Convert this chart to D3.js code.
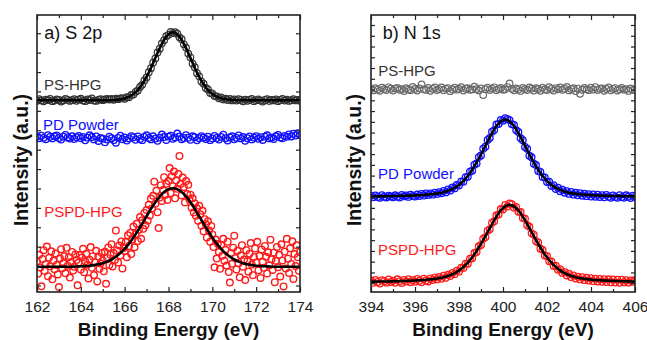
<!DOCTYPE html>
<html>
<head>
<meta charset="utf-8">
<script src="https://cdn.jsdelivr.net/npm/d3@7"></script>
<style>
  body { margin: 0; background: #fff; }
  svg text { font-family: "Liberation Sans", Arial, sans-serif; }
</style>
</head>
<body>
<svg id="chart" width="647" height="340"></svg>
<script>
// ---- a) S 2p : data (0.1 eV steps from 162 eV, red raw in 0.05 eV steps) ----
const sTicks = [162, 164, 166, 168, 170, 172, 174];
const sPsHpg = [
  95.2, 96.0, 95.4, 94.9, 95.8, 95.5, 96.1, 95.0, 95.3, 95.9, 95.6, 94.8, 95.4, 96.2, 95.7, 95.1, 95.5, 96.0, 95.2, 95.8,
  96.3, 95.4, 95.0, 95.9, 95.6, 96.4, 95.3, 95.1, 95.7, 96.0, 95.5, 95.9, 96.2, 95.8, 96.1, 95.7, 96.3, 96.0, 96.4, 96.6,
  96.2, 97.1, 97.0, 98.2, 98.4, 99.8, 100.5, 102.3, 103.4, 105.7, 107.2, 109.9, 112.0, 114.9, 117.0, 120.1, 122.0, 124.8, 126.4, 128.5,
  129.2, 130.7, 130.1, 130.6, 129.8, 127.9, 126.9, 124.3, 122.6, 119.5, 117.6, 114.3, 112.5, 109.4, 107.8, 105.1, 104.0, 101.8, 101.0, 99.2,
  98.9, 97.6, 97.5, 96.5, 96.9, 95.9, 96.3, 95.6, 96.1, 95.4, 95.9, 95.3, 96.0, 95.6, 94.9, 95.8, 95.2, 95.7, 96.1, 95.0,
  95.5, 95.9, 95.3, 94.8, 95.6, 96.0, 95.1, 95.7, 95.4, 95.9, 95.0, 95.6, 96.2, 95.3, 95.8, 95.1, 95.5, 96.0, 95.4, 95.7,
  95.2
];
const sPsHpgFit = [ // 0.2 eV steps
  95.5, 95.5, 95.5, 95.5, 95.5, 95.5, 95.5, 95.5, 95.5, 95.5, 95.5, 95.5, 95.5, 95.5, 95.5, 95.5,
  95.5, 95.6, 95.7, 96.0, 96.5, 97.3, 98.7, 100.7, 103.7, 107.5, 112.1, 117.3, 122.3, 126.6, 129.5,
  130.5, 129.5, 126.6, 122.3, 117.3, 112.1, 107.5, 103.7, 100.7, 98.7, 97.3, 96.5, 96.0, 95.7, 95.6,
  95.5, 95.5, 95.5, 95.5, 95.5, 95.5, 95.5, 95.5, 95.5, 95.5, 95.5, 95.5, 95.5, 95.5, 95.5
];
const sPdPowder = [
  76.8, 75.9, 77.2, 76.1, 75.4, 77.5, 76.6, 75.8, 76.9, 77.3, 76.0, 75.2, 76.7, 77.6, 76.3, 75.7, 76.9, 75.5, 76.4, 77.1,
  75.9, 76.6, 74.8, 76.2, 77.4, 76.5, 75.3, 76.8, 74.5, 76.0, 75.6, 73.8, 75.2, 76.7, 75.9, 74.9, 73.6, 76.1, 77.2, 75.4,
  76.3, 74.7, 75.8, 77.0, 76.4, 75.1, 76.8, 75.5, 74.9, 76.6, 77.4, 76.0, 75.3, 76.9, 75.7, 74.6, 76.2, 77.8, 76.5, 75.0,
  76.7, 77.2, 75.6, 76.3, 78.3, 76.8, 75.4, 76.0, 77.5, 76.2, 75.1, 76.9, 76.4, 74.8, 75.9, 77.0, 76.3, 75.5, 76.7, 74.9,
  75.8, 77.1, 76.0, 75.2, 76.6, 77.7, 75.9, 74.7, 76.3, 76.9, 75.4, 76.1, 77.3, 75.8, 76.5, 74.6, 75.9, 76.8, 75.3, 76.2,
  77.0, 75.6, 76.4, 75.0, 76.7, 77.4, 75.8, 76.2, 75.5, 76.9, 77.6, 76.3, 75.9, 77.1, 76.6, 77.9, 76.8, 78.2, 77.3, 78.5,
  77.4
];
const sPspdHpg = [ // 0.05 eV steps
  12.4, 6.1, 15.8, 9.3, -0.4, 13.7, 18.2, 7.5, 11.0, 20.1, 4.8, 14.3, 9.9, 17.6, 3.2, 12.8, 8.4, 16.5, 10.6, 5.7,
  -0.8, 13.9, 18.7, 8.9, 11.6, 15.2, 6.3, 19.4, 10.2, 14.6, 4.1, 12.1, 17.3, 7.7, 9.6, 16.0, 13.1, 0.1, 11.8, 15.7,
  8.2, 14.4, 18.9, 6.8, 12.5, 16.3, 10.7, 3.6, 13.3, 19.8, 9.1, 15.1, 5.4, 12.0, 17.9, 2.1, 14.9, 8.6, 11.3, 16.8,
  12.9, 7.3, 17.4, 0.9, 14.2, 19.6, 10.5, 15.9, 21.3, 9.8, 16.7, 13.2, 28.4, 18.1, 11.9, 20.6, 15.4, 22.7, 8.8, 19.3,
  17.8, 22.4, 14.6, 25.9, 20.3, 27.1, 16.2, 23.8, 30.4, 19.7, 26.5, 31.8, 22.9, 28.7, 35.3, 24.1, 33.6, 29.2, 37.4, 31.0,
  38.9, 33.4, 41.6, 36.1, 44.8, 39.7, 46.2, 53.5, 42.1, 48.9, 37.8, 29.6, 45.3, 51.7, 43.6, 49.2, 55.8, 46.7, 52.4, 44.1,
  53.9, 60.5, 47.6, 56.3, 51.2, 58.7, 44.9, 54.1, 49.8, 57.4, 66.8, 52.3, 46.4, 55.6, 50.7, 42.8, 53.8, 47.1, 51.9, 44.3,
  46.8, 40.2, 44.9, 37.6, 42.3, 35.9, 39.8, 33.4, 41.1, 36.7, 30.8, 38.5, 27.9, 34.2, 31.6, 24.8, 33.1, 28.4, 22.6, 30.7,
  26.3, 19.8, 9.4, 23.7, 13.9, 21.5, 17.2, 8.6, 20.9, 15.3, 24.1, 12.7, 18.4, 10.3, 22.6, 6.9, 1.5, 16.8, 11.2, 19.5,
  25.7, 14.1, 8.3, 17.9, 11.5, 4.2, 15.6, 20.8, 9.7, 13.4, 2.8, 18.2, 12.6, 7.1, 16.4, 21.9, 10.8, 5.3, 14.7, 19.1,
  11.9, 22.5, 7.8, 15.3, 3.9, 18.6, 12.2, 9.1, 20.4, 14.8, 6.2, 17.1, 10.4, 23.6, 13.5, 8.0, 16.9, 1.7, 12.7, 19.9,
  9.4, 15.8, 4.6, 21.2, 12.9, -0.5, 17.5, 8.7, 24.1, 13.8, 6.5, 19.2, 11.1, 22.8, 3.4, 16.2, 10.0, 20.7, 14.5, 7.6,
  17.3
];
const sPspdHpgFit = [ // 0.2 eV steps
  9.7, 9.7, 9.7, 9.7, 9.7, 9.7, 9.7, 9.7, 9.7,
  9.8, 9.9, 10.0, 10.2, 10.5, 10.9, 11.5, 12.3, 13.4, 14.8, 16.7, 18.9, 21.6, 24.7, 28.2, 31.9, 35.7, 39.5, 42.9, 45.9,
  48.2, 49.6, 50.1, 49.6, 48.2,
  45.9, 42.9, 39.5, 35.7, 31.9, 28.2, 24.7, 21.6, 18.9, 16.7, 14.8, 13.4, 12.3, 11.5, 10.9, 10.5, 10.2, 10.0, 9.9, 9.8,
  9.7, 9.7, 9.7, 9.7, 9.7, 9.7, 9.7
];

// ---- b) N 1s : data (0.1 eV steps from 394 eV) ----
const nTicks = [394, 396, 398, 400, 402, 404, 406];
const nPsHpg = [
  180.5, 179.2, 181.3, 180.0, 178.9, 181.8, 180.4, 179.5, 182.1, 180.8, 179.1, 180.9, 181.6, 179.8, 180.3, 178.6, 181.2, 180.1, 179.4, 182.4,
  180.6, 179.0, 181.1, 184.8, 180.2, 179.7, 181.5, 178.8, 180.7, 181.9, 179.6, 180.4, 182.0, 179.3, 180.9, 181.4, 178.5, 180.2, 181.7, 179.9,
  180.6, 182.2, 179.1, 180.8, 181.3, 179.7, 180.1, 182.6, 180.4, 179.2, 181.0, 174.9, 180.3, 181.8, 179.6, 180.9, 182.1, 179.4, 180.6, 181.5,
  179.8, 180.2, 182.3, 185.6, 180.7, 179.3, 181.1, 180.0, 178.7, 181.6, 180.4, 179.6, 182.0, 180.9, 179.1, 181.3, 180.5, 178.9, 181.8, 180.1,
  179.5, 182.2, 180.7, 179.0, 181.4, 180.3, 181.9, 179.7, 180.8, 182.5, 179.2, 180.6, 181.2, 178.6, 180.9, 176.1, 179.8, 181.5, 180.2, 179.4,
  181.7, 180.0, 182.3, 179.6, 180.8, 181.1, 178.8, 180.5, 181.9, 179.3, 180.7, 181.4, 179.1, 180.2, 181.6, 179.9, 180.4, 178.7, 181.0, 179.6,
  180.3
];
const nPdPowder = [
  81.2, 79.8, 81.5, 80.1, 79.4, 81.9, 80.3, 79.7, 81.4, 80.6, 79.9, 81.7, 80.4, 79.6, 82.0, 80.8, 81.6, 80.2, 82.3, 81.0,
  80.5, 82.4, 81.1, 82.9, 81.5, 83.4, 82.0, 83.5, 82.3, 84.2, 82.8, 84.6, 83.5, 85.7, 84.4, 87.1, 86.0, 88.9, 88.1, 91.2,
  90.7, 94.5, 94.3, 98.6, 99.0, 103.7, 104.6, 110.1, 111.3, 117.2, 118.8, 125.0, 126.9, 133.1, 134.9, 140.8, 142.3, 147.5, 148.0, 151.8,
  151.0, 153.3, 152.4, 151.6, 147.8, 147.2, 142.1, 140.5, 134.7, 132.9, 126.6, 124.9, 118.5, 117.0, 111.0, 109.8, 104.3, 103.5, 98.7, 98.4,
  94.0, 94.3, 90.4, 91.1, 87.6, 88.7, 85.5, 86.8, 84.1, 85.6, 83.0, 84.8, 82.3, 84.0, 81.7, 83.6, 81.3, 83.1, 80.9, 82.8,
  80.6, 82.5, 80.4, 82.2, 80.1, 81.9, 79.8, 82.1, 80.3, 79.4, 81.6, 80.2, 79.3, 81.8, 80.0, 79.5, 81.7, 80.4, 79.2, 81.3,
  80.1
];
const nPdPowderFit = [
  80.6, 80.6, 80.6, 80.7, 80.7, 80.8, 80.8, 80.8, 80.9, 80.9, 81.0, 81.0, 81.1, 81.1, 81.2, 81.2, 81.3, 81.4, 81.4, 81.5, 81.6,
  81.7, 81.8, 82.0, 82.1, 82.2, 82.4, 82.6, 82.8, 83.1, 83.4, 83.7, 84.1, 84.6, 85.2, 85.9, 86.7, 87.6, 88.7, 90.0, 91.5,
  93.2, 95.1, 97.3, 99.8, 102.4, 105.5, 108.7, 112.2, 115.9, 119.7, 123.7, 127.7, 131.8, 135.8, 139.6, 143.0, 146.1, 148.6, 150.5, 151.7,
  152.1,
  151.7, 150.5, 148.6, 146.1, 143.0, 139.6, 135.8, 131.8, 127.7, 123.7, 119.7, 115.9, 112.2, 108.7, 105.5, 102.4, 99.8, 97.3, 95.1, 93.2,
  91.5, 90.0, 88.7, 87.6, 86.7, 85.9, 85.2, 84.6, 84.1, 83.7, 83.4, 83.1, 82.8, 82.6, 82.4, 82.2, 82.1, 82.0, 81.8, 81.7,
  81.6, 81.5, 81.4, 81.4, 81.3, 81.2, 81.2, 81.1, 81.1, 81.0, 81.0, 80.9, 80.9, 80.8, 80.8, 80.8, 80.7, 80.7, 80.6
];
const nPspdHpg = [
  2.6, 0.3, 3.1, 1.2, -0.4, 2.8, 1.9, 0.5, 3.4, 1.1, 2.3, 0.4, 3.6, 1.7, 0.2, 3.0, 1.5, 3.8, 0.9, 2.7,
  1.4, 3.9, 2.2, 0.8, 4.1, 2.5, 1.6, 4.4, 3.0, 5.2, 3.5, 5.8, 4.1, 6.9, 5.0, 7.8, 6.6, 9.5, 8.4, 11.6,
  10.7, 14.5, 14.2, 18.1, 18.0, 22.7, 23.2, 28.0, 28.9, 34.3, 35.5, 41.3, 42.7, 48.8, 50.1, 56.2, 57.5, 63.1, 63.8, 68.9,
  68.5, 72.7, 71.3, 74.1, 73.5, 70.2, 70.9, 66.4, 66.1, 60.7, 59.9, 53.8, 52.4, 46.3, 45.0, 39.0, 37.8, 32.1, 31.0, 25.8,
  25.3, 20.4, 20.3, 16.0, 16.2, 12.4, 13.0, 9.4, 10.5, 7.2, 8.7, 5.6, 7.3, 4.4, 6.1, 3.5, 5.5, 2.8, 5.0, 2.4,
  4.6, 1.9, 4.2, 1.6, 3.9, 1.3, 3.7, 1.1, 3.6, 0.8, 3.4, 0.6, 3.3, 0.4, 3.2, 0.9, 2.8, 0.5, 2.6, 1.2,
  2.9
];
const nPspdHpgFit = [
  1.4, 1.4, 1.4, 1.5, 1.5, 1.5, 1.6, 1.6, 1.6, 1.7, 1.7, 1.8, 1.8, 1.9, 2.0, 2.0, 2.1, 2.2, 2.3, 2.4,
  2.5, 2.6, 2.7, 2.8, 2.9, 3.1, 3.3, 3.5, 3.8, 4.0, 4.3, 4.6, 5.0, 5.5, 6.1, 6.7, 7.5, 8.3, 9.3, 10.5,
  11.9, 13.4, 15.1, 17.0, 19.1, 21.5, 24.1, 26.9, 29.9, 33.2, 36.6, 40.1, 43.8, 47.5, 51.2, 55.0, 58.6, 61.9, 64.9, 67.6,
  69.7, 71.4, 72.4, 72.8, 72.4, 71.4, 69.7, 67.6, 64.9, 61.9, 58.6, 55.0, 51.2, 47.5, 43.8, 40.1, 36.6, 33.2, 29.9, 26.9,
  24.1, 21.5, 19.1, 17.0, 15.1, 13.4, 11.9, 10.5, 9.3, 8.3, 7.5, 6.7, 6.1, 5.5, 5.0, 4.6, 4.3, 4.0, 3.8, 3.5,
  3.3, 3.1, 2.9, 2.8, 2.7, 2.6, 2.5, 2.4, 2.3, 2.2, 2.1, 2.0, 2.0, 1.9, 1.8, 1.8, 1.7, 1.7, 1.6, 1.6,
  1.6
];

const BLACK = "#333", GREY = "#6a6a6a", BLUE = "#1010ff", RED = "#ff1a1a";
const plotTop = 15, plotBottom = 292; // plot frame, both panels
const svg = d3.select( "#chart" );

const panels = [
  {
    id: "s2p", left: 37, right: 300, xDomain: [ 162, 174 ], yDomain: [ -3.35, 139.4 ], ticks: sTicks, axisX: 28,
    series: [
      { values: sPsHpg, start: 162, step: 0.1, color: BLACK, r: 3.3, width: 1.2, fit: sPsHpgFit },
      { values: sPdPowder, start: 162, step: 0.1, color: BLUE, r: 3.3, width: 1.3 },
      { values: sPspdHpg, start: 162, step: 0.05, color: RED, r: 3.3, width: 1.4, fit: sPspdHpgFit }
    ],
    labels: [
      { text: "a) S 2p", e: 162.33, v: 127.1, color: "#111", size: 18 },
      { text: "PS-HPG", e: 162.32, v: 100.8, color: "#333" },
      { text: "PD Powder", e: 162.27, v: 80.2, color: BLUE },
      { text: "PSPD-HPG", e: 162.33, v: 35.3, color: RED }
    ]
  },
  {
    id: "n1s", left: 371, right: 635, xDomain: [ 394, 406 ], yDomain: [ -8.2, 249.3 ], ticks: nTicks, axisX: 361,
    series: [
      { values: nPsHpg, start: 394, step: 0.1, color: GREY, r: 3.3, width: 1.2 },
      { values: nPdPowder, start: 394, step: 0.1, color: BLUE, r: 3.3, width: 1.3, fit: nPdPowderFit },
      { values: nPspdHpg, start: 394, step: 0.1, color: RED, r: 3.3, width: 1.3, fit: nPspdHpgFit }
    ],
    labels: [
      { text: "b) N 1s", e: 394.53, v: 227.0, color: "#111", size: 18 },
      { text: "PS-HPG", e: 394.33, v: 192.6, color: "#333" },
      { text: "PD Powder", e: 394.32, v: 97.1, color: BLUE },
      { text: "PSPD-HPG", e: 394.32, v: 26.2, color: RED }
    ]
  }
];

panels.forEach( p =>
{
  const x = d3.scaleLinear().domain( p.xDomain ).range( [ p.left, p.right ] );
  const y = d3.scaleLinear().domain( p.yDomain ).range( [ plotBottom, plotTop ] );
  const g = svg.append( "g" );

  g.append( "clipPath" ).attr( "id", "clip-" + p.id )
    .append( "rect" )
    .attr( "x", p.left ).attr( "y", plotTop )
    .attr( "width", p.right - p.left ).attr( "height", plotBottom - plotTop );

  const plot = g.append( "g" ).attr( "clip-path", `url(#clip-${p.id})` );
  const line = d3.line().x( d => x( d.e ) ).y( d => y( d.v ) ).curve( d3.curveMonotoneX );

  p.series.forEach( s =>
  {
    // raw points as open circles
    plot.append( "g" )
      .selectAll( "circle" )
      .data( s.values.map( ( v, i ) => ( { e: s.start + i * s.step, v } ) ) )
      .join( "circle" )
        .attr( "cx", d => x( d.e ) )
        .attr( "cy", d => y( d.v ) )
        .attr( "r", s.r )
        .attr( "fill", "none" )
        .attr( "stroke", s.color )
        .attr( "stroke-width", s.width || 1 );

    // fitted envelope on top
    if ( s.fit )
    {
      const fitStep = ( p.xDomain[ 1 ] - p.xDomain[ 0 ] ) / ( s.fit.length - 1 );
      plot.append( "path" )
        .datum( s.fit.map( ( v, i ) => ( { e: p.xDomain[ 0 ] + i * fitStep, v } ) ) )
        .attr( "d", line )
        .attr( "fill", "none" )
        .attr( "stroke", "#000" )
        .attr( "stroke-width", 2.6 );
    }
  } );

  // axes: ticks point inwards on all four sides, labels only at the bottom
  const minor = d3.range( p.xDomain[ 0 ] + 1, p.xDomain[ 1 ], 2 );
  const yTicks = d3.range( 0, p.yDomain[ 1 ], 10 );
  const styleAxis = sel => sel.call( a => a.select( ".domain" ).remove() )
    .selectAll( "line" ).attr( "stroke", "#222" ).attr( "stroke-width", 1.2 );

  g.append( "g" ).attr( "transform", `translate(0,${plotBottom})` )
    .call( d3.axisBottom( x ).tickValues( p.ticks ).tickSizeInner( -5 ).tickSizeOuter( 0 ).tickPadding( 9 ).tickFormat( d3.format( "d" ) ) )
    .call( styleAxis )
    .call( a => a.selectAll( "text" ).attr( "font-size", 15.5 ).attr( "fill", "#222" ).attr( "font-family", "'Liberation Sans', Arial, sans-serif" ) );
  g.append( "g" ).attr( "transform", `translate(0,${plotBottom})` )
    .call( d3.axisBottom( x ).tickValues( minor ).tickSizeInner( -3 ).tickSizeOuter( 0 ).tickFormat( "" ) ).call( styleAxis );
  g.append( "g" ).attr( "transform", `translate(0,${plotTop})` )
    .call( d3.axisTop( x ).tickValues( p.ticks ).tickSizeInner( -5 ).tickSizeOuter( 0 ).tickFormat( "" ) ).call( styleAxis );
  g.append( "g" ).attr( "transform", `translate(0,${plotTop})` )
    .call( d3.axisTop( x ).tickValues( minor ).tickSizeInner( -3 ).tickSizeOuter( 0 ).tickFormat( "" ) ).call( styleAxis );
  g.append( "g" ).attr( "transform", `translate(${p.left},0)` )
    .call( d3.axisLeft( y ).tickValues( yTicks ).tickSizeInner( -4 ).tickSizeOuter( 0 ).tickFormat( "" ) ).call( styleAxis );
  g.append( "g" ).attr( "transform", `translate(${p.right},0)` )
    .call( d3.axisRight( y ).tickValues( yTicks ).tickSizeInner( -4 ).tickSizeOuter( 0 ).tickFormat( "" ) ).call( styleAxis );

  // frame
  g.append( "rect" )
    .attr( "x", p.left ).attr( "y", plotTop )
    .attr( "width", p.right - p.left ).attr( "height", plotBottom - plotTop )
    .attr( "fill", "none" ).attr( "stroke", "#222" ).attr( "stroke-width", 1.6 );

  // series labels inside the frame
  g.selectAll( ".lbl" )
    .data( p.labels )
    .join( "text" )
      .attr( "class", "lbl" )
      .attr( "x", d => x( d.e ) )
      .attr( "y", d => y( d.v ) )
      .attr( "font-size", d => d.size || 15 )
      .attr( "fill", d => d.color )
      .text( d => d.text );

  // axis titles
  g.append( "text" )
    .attr( "x", ( p.left + p.right ) / 2 ).attr( "y", 336 )
    .attr( "text-anchor", "middle" ).attr( "font-size", 19 ).attr( "font-weight", "bold" ).attr( "fill", "#111" )
    .text( "Binding Energy (eV)" );
  g.append( "text" )
    .attr( "transform", `translate(${p.axisX},160) rotate(-90)` )
    .attr( "text-anchor", "middle" ).attr( "font-size", 19.5 ).attr( "font-weight", "bold" ).attr( "fill", "#111" )
    .text( "Intensity (a.u.)" );
} );
</script>
</body>
</html>
